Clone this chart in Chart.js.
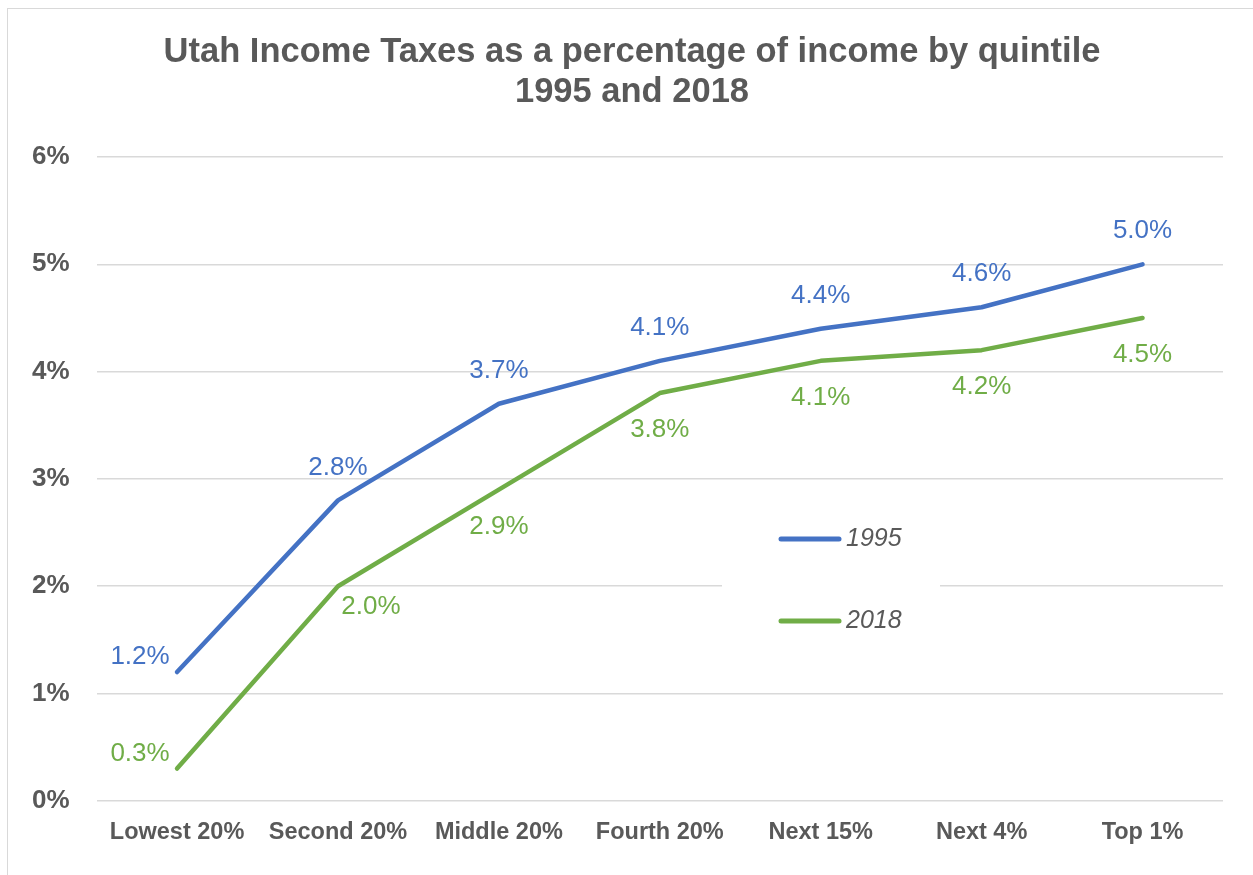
<!DOCTYPE html>
<html>
<head>
<meta charset="utf-8">
<script src="https://cdn.jsdelivr.net/npm/chart.js@4"></script>
<style>
    html, body { margin: 0; padding: 0; background: #fff; }
    #wrap { position: absolute; left: 0; top: 0; width: 1253px; height: 875px; }
    #frame { position: absolute; left: 7px; top: 8px; width: 1260px; height: 880px; border: 1.5px solid #d9d9d9; box-sizing: border-box; }
</style>
</head>
<body>
<div id="wrap">
    <div id="frame"></div>
    <canvas id="taxChart" width="1253" height="875"></canvas>
</div>
<script>
// Utah income tax share by income group
const titleLines = ["Utah Income Taxes as a percentage of income by quintile", "1995 and 2018"];
const groups = ["Lowest 20%", "Second 20%", "Middle 20%", "Fourth 20%", "Next 15%", "Next 4%", "Top 1%"];
const rates1995 = [1.2, 2.8, 3.7, 4.1, 4.4, 4.6, 5.0];
const rates2018 = [0.3, 2.0, 2.9, 3.8, 4.1, 4.2, 4.5];
const yTicks = [0, 1, 2, 3, 4, 5, 6];

const gray = "#595959";
const fontFamily = "'Liberation Sans', Arial, sans-serif";

// where each value label sits relative to its point
const place1995 = ["left", "above", "above", "above", "above", "above", "above"];
const place2018 = ["left", "belowRight", "below", "below", "below", "below", "below"];

// title drawn by hand so it can be centred like the original
const chartTitle = {
    id: "chartTitle",
    afterDraw(chart) {
        const ctx = chart.ctx;
        ctx.save();
        ctx.font = "bold 34.5px " + fontFamily;
        ctx.fillStyle = gray;
        ctx.textAlign = "center";
        ctx.textBaseline = "middle";
        titleLines.forEach((line, i) => ctx.fillText(line, 632, 52 + i * 40));
        ctx.restore();
    }
};

const valueLabels = {
    id: "valueLabels",
    afterDatasetsDraw(chart) {
        const ctx = chart.ctx;
        ctx.save();
        ctx.font = "26px " + fontFamily;
        ctx.textAlign = "center";
        ctx.textBaseline = "middle";
        chart.data.datasets.forEach((ds, i) => {
            const meta = chart.getDatasetMeta(i);
            ctx.fillStyle = ds.borderColor;
            meta.data.forEach((pt, j) => {
                const text = ds.data[j].toFixed(1) + "%";
                let x = pt.x, y = pt.y;
                const where = ds.labelPlace[j];
                if (where === "above") y -= 33;
                if (where === "below") y += 37;
                if (where === "left") { x -= 37; y -= 15; }
                if (where === "belowRight") { x += 33; y += 21; }
                ctx.fillText(text, x, y);
            });
        });
        ctx.restore();
    }
};

const sideLegend = {
    id: "sideLegend",
    afterDraw(chart) {
        const ctx = chart.ctx;
        ctx.save();
        ctx.fillStyle = "#fff";
        ctx.fillRect(722, 515, 218, 130);
        ctx.font = "italic 25px " + fontFamily;
        ctx.textBaseline = "middle";
        ctx.lineCap = "round";
        chart.data.datasets.forEach((ds, i) => {
            const y = 539 + i * 82;
            ctx.strokeStyle = ds.borderColor;
            ctx.lineWidth = 5;
            ctx.beginPath();
            ctx.moveTo(781, y);
            ctx.lineTo(839, y);
            ctx.stroke();
            ctx.fillStyle = gray;
            ctx.fillText(ds.label, 846, y);
        });
        ctx.restore();
    }
};

new Chart(document.getElementById("taxChart"), {
    type: "line",
    data: {
        labels: groups,
        datasets: [
            { label: "1995", data: rates1995, borderColor: "#4472C4", labelPlace: place1995 },
            { label: "2018", data: rates2018, borderColor: "#70AD47", labelPlace: place2018 }
        ]
    },
    options: {
        responsive: false,
        animation: false,
        layout: { padding: { left: 5, right: 30, top: 157, bottom: 18 } },
        elements: {
            line: { borderWidth: 4.5, tension: 0, borderCapStyle: "round", borderJoinStyle: "round" },
            point: { radius: 0, hoverRadius: 0 }
        },
        plugins: {
            legend: { display: false },
            tooltip: { enabled: false },
            title: { display: false }
        },
        scales: {
            x: {
                offset: true,
                grid: { display: false },
                border: { display: false },
                ticks: {
                    color: gray,
                    font: { family: fontFamily, size: 23.5, weight: "bold" },
                    padding: 10,
                    maxRotation: 0
                }
            },
            y: {
                min: yTicks[0],
                max: yTicks[yTicks.length - 1],
                afterBuildTicks: axis => { axis.ticks = yTicks.map(v => ({ value: v })); },
                grid: { color: "#d9d9d9", lineWidth: 1.5, drawTicks: false },
                border: { display: false },
                ticks: {
                    color: gray,
                    font: { family: fontFamily, size: 26, weight: "bold" },
                    padding: 27,
                    callback: v => v + "%"
                }
            }
        }
    },
    plugins: [chartTitle, valueLabels, sideLegend]
});
</script>
</body>
</html>
